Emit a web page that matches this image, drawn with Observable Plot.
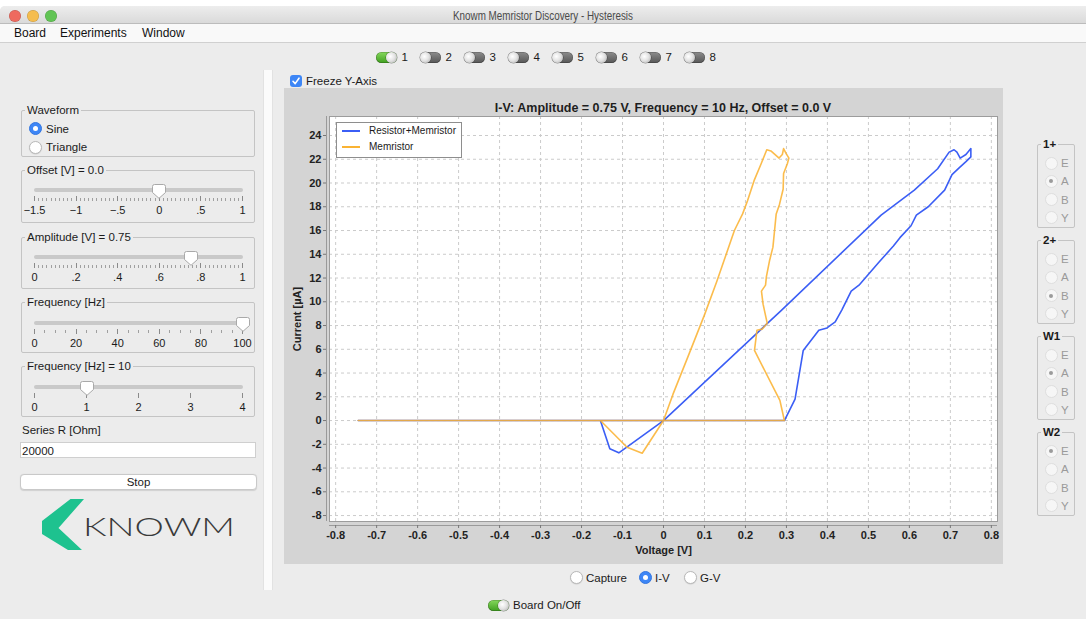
<!DOCTYPE html>
<html>
<head>
<meta charset="utf-8">
<title>Knowm Memristor Discovery - Hysteresis</title>
<script src="https://cdn.jsdelivr.net/npm/d3@7"></script>
<script src="https://cdn.jsdelivr.net/npm/@observablehq/plot@0.6"></script>
<style>
  html, body { margin: 0; padding: 0; }
  body { width: 1086px; height: 619px; overflow: hidden; position: relative; background: #ffffff;
         font-family: "Liberation Sans", Arial, sans-serif; font-size: 11.5px; color: #1b1b1b; }
  .a { position: absolute; }
  .t { position: absolute; white-space: nowrap; line-height: 14px; }
  .box { position: absolute; border: 1px solid #c4c4c4; border-radius: 2px; box-sizing: border-box; }
  .boxTitle { position: absolute; background: #ececec; padding: 0 2px; line-height: 14px; white-space: nowrap; }
</style>
</head>
<body>
<div class="a" style="left:0;top:6px;width:1100px;height:620px;background:#ececec;border-radius:5px 0 0 0;"></div>
<div class="a" style="left:0;top:6px;width:1100px;height:17px;background:linear-gradient(#ededed,#dadada);border-bottom:1px solid #bcbcbc;border-radius:5px 0 0 0;"></div>
<div class="a" style="left:0;top:24px;width:1100px;height:18px;background:#f9f9f9;border-bottom:1px solid #d0d0d0;"></div>
<div id="chart" class="a" style="left:284px;top:88px;width:719px;height:476px;background:#d4d4d4;"></div>
<script>
// ---- chart data ----
const xTicks = [-0.8, -0.7, -0.6, -0.5, -0.4, -0.3, -0.2, -0.1, 0, 0.1, 0.2, 0.3, 0.4, 0.5, 0.6, 0.7, 0.8];
const yTicks = [-8, -6, -4, -2, 0, 2, 4, 6, 8, 10, 12, 14, 16, 18, 20, 22, 24];
const xDomain = [-0.815, 0.815];
const yDomain = [-8.5, 25.6];

const seriesNames = ["Resistor+Memristor", "Memristor"];
const seriesColors = ["#3b5ef5", "#fab333"];

// Resistor+Memristor: total applied voltage [V] vs current [µA]
const rmVoltage = [0.000, 0.287, 0.531, 0.612, 0.669, 0.697, 0.709, 0.716, 0.724, 0.738, 0.750, 0.750, 0.738,
  0.722, 0.704, 0.686, 0.646, 0.617, 0.604, 0.577, 0.561, 0.525, 0.477, 0.458, 0.435, 0.419, 0.399, 0.379,
  0.341, 0.321, 0.295, -0.745, -0.154, -0.131, -0.109, 0.000];
const rmCurrent = [0.0, 9.26, 17.3, 19.4, 21.2, 22.6, 22.8, 22.6, 22.1, 22.4, 22.9, 22.2, 21.8,
  21.3, 20.7, 19.4, 18.0, 17.3, 16.4, 15.4, 14.7, 13.3, 11.4, 10.9, 9.3, 8.3, 7.8, 7.6,
  5.9, 1.8, 0.0, 0.0, 0.0, -2.38, -2.72, 0.0];

// Memristor: voltage across the device [V] vs current [µA]
const memVoltage = [0.000, 0.023, 0.060, 0.100, 0.130, 0.153, 0.173, 0.193, 0.205, 0.221, 0.238, 0.252, 0.262,
  0.282, 0.290, 0.293, 0.299, 0.306, 0.302, 0.293, 0.292, 0.283, 0.275, 0.271, 0.267, 0.259, 0.251, 0.249,
  0.239, 0.243, 0.253, 0.241, 0.228, 0.222, 0.284, 0.295, -0.745, -0.154, -0.089, -0.052, 0.000];
const memCurrent = [0.0, 2.2, 5.4, 8.9, 11.7, 14.0, 16.0, 17.4, 18.5, 20.2, 21.6, 22.8, 22.7,
  22.1, 22.4, 22.9, 22.5, 22.1, 21.6, 20.8, 19.5, 18.2, 17.4, 16.0, 14.6, 13.5, 12.1, 11.4,
  10.9, 9.8, 8.2, 7.7, 7.6, 5.9, 1.7, 0.0, 0.0, 0.0, -2.25, -2.75, 0.0];

const chartTitle = "I-V: Amplitude = 0.75 V, Frequency = 10 Hz, Offset = 0.0 V";
const xLabel = "Voltage [V]";
const yLabel = "Current [µA]";

// ---- control panel content ----
const menuItems = ["Board", "Experiments", "Window"];
const channelToggles = ["1", "2", "3", "4", "5", "6", "7", "8"];
const offsetLabels = [["−1.5", -1.5], ["−1", -1], ["−.5", -0.5], ["0", 0], [".5", 0.5], ["1", 1]];
const amplitudeLabels = [["0", 0], [".2", 0.2], [".4", 0.4], [".6", 0.6], [".8", 0.8], ["1", 1]];
const freqRangeLabels = [["0", 0], ["20", 20], ["40", 40], ["60", 60], ["80", 80], ["100", 100]];
const freqLabels = [["0", 0], ["1", 1], ["2", 2], ["3", 3], ["4", 4]];
const channelLetters = ["E", "A", "B", "Y"];
const pinGroups = [["1+", 1], ["2+", 2], ["W1", 1], ["W2", 0]];
const viewModes = ["Capture", "I-V", "G-V"];

// ---- helpers ----
const body = document.body;
function el(tag, cls, style, text) {
  const e = document.createElement(tag);
  if (cls) e.className = cls;
  Object.assign(e.style, style);
  if (text != null) e.textContent = text;
  body.appendChild(e);
  return e;
}
function txt(s, x, y, o = {}) {
  const e = el("div", "t", {left: x + "px", top: (y - 7) + "px",
    fontSize: (o.size || 11.5) + "px", fontWeight: o.bold ? "bold" : "normal",
    color: o.color || "#1b1b1b"}, s);
  let tf = "";
  if (o.align === "center") tf += "translateX(-50%) ";
  if (o.align === "right") tf += "translateX(-100%) ";
  if (o.squeeze) tf += "scaleX(" + o.squeeze + ")";
  if (tf) e.style.transform = tf;
  return e;
}
function radio(cx, cy, state) {
  const d = 13;
  const st = {left: (cx - d / 2) + "px", top: (cy - d / 2) + "px", width: d + "px", height: d + "px",
    borderRadius: "50%", boxSizing: "border-box"};
  if (state === "on") Object.assign(st, {background: "#3d86f6", border: "1px solid #3477e0"});
  else if (state === "off") Object.assign(st, {background: "#ffffff", border: "1px solid #b9b9b9", boxShadow: "0 0.5px 1px rgba(0,0,0,0.15)"});
  else Object.assign(st, {background: "#f6f6f6", border: "1px solid #dedede"});
  el("div", "a", st);
  if (state === "on" || state === "disOn") {
    const r = state === "on" ? 5 : 4;
    el("div", "a", {left: (cx - r / 2) + "px", top: (cy - r / 2) + "px", width: r + "px", height: r + "px",
      borderRadius: "50%", background: state === "on" ? "#ffffff" : "#9b9b9b"});
  }
}
function toggle(x, cy, on) {
  const w = 21, h = 11;
  el("div", "a", {left: x + "px", top: (cy - h / 2) + "px", width: w + "px", height: h + "px", borderRadius: "6px",
    background: on ? "linear-gradient(#86d95c,#3f9f1f)" : "linear-gradient(#8d8d8d,#565656)",
    boxShadow: "inset 0 0 0 0.5px rgba(0,0,0,0.35)"});
  const kx = on ? x + w - 11 : x;
  el("div", "a", {left: kx + "px", top: (cy - 5.5) + "px", width: "11px", height: "11px", borderRadius: "50%",
    background: "radial-gradient(circle at 40% 40%, #ffffff 0%, #e4e4e4 45%, #a9a9a9 100%)",
    boxShadow: "0 0 0 0.5px rgba(0,0,0,0.4)"});
}
function group(title, left, top, right, bottom, bold) {
  el("div", "box", {left: left + "px", top: top + "px", width: (right - left) + "px", height: (bottom - top) + "px"});
  el("div", "boxTitle", {left: (left + 4) + "px", top: (top - 7) + "px", fontWeight: bold ? "bold" : "normal"}, title);
}
function slider(y, min, max, minor, majorLabels, value) {
  const sx = d3.scaleLinear().domain([min, max]).range([34.5, 242.5]);
  el("div", "a", {left: "34px", top: (y - 2) + "px", width: "209px", height: "4px", background: "#c9c9c9", borderRadius: "2px"});
  if (minor) {
    for (const v of d3.range(min, max + minor / 2, minor)) {
      el("div", "a", {left: (sx(v) - 0.5) + "px", top: (y + 7.5) + "px", width: "1px", height: "3px", background: "#a0a0a0"});
    }
  }
  for (const [s, v] of majorLabels) {
    el("div", "a", {left: (sx(v) - 0.5) + "px", top: (y + 6) + "px", width: "1px", height: "5px", background: "#8a8a8a"});
    txt(s, sx(v), y + 20, {align: "center", size: 11});
  }
  const th = document.createElementNS("http://www.w3.org/2000/svg", "svg");
  th.setAttribute("width", 14); th.setAttribute("height", 15);
  th.style.position = "absolute";
  th.style.left = (sx(value) - 7) + "px";
  th.style.top = (y - 6) + "px";
  th.innerHTML = '<path d="M0.5,2.5 Q0.5,0.5 2.5,0.5 L11.5,0.5 Q13.5,0.5 13.5,2.5 L13.5,8.5 L7,14.3 L0.5,8.5 Z" fill="#ffffff" stroke="#a9a9a9" stroke-width="1"/>';
  body.appendChild(th);
}

// ---- window chrome ----
[["#ee6a5f", 15], ["#f5bd4f", 33], ["#61c454", 51]].forEach(([c, x]) =>
  el("div", "a", {left: (x - 6) + "px", top: "10px", width: "12px", height: "12px", borderRadius: "50%", background: c,
    boxShadow: "inset 0 0 0 0.5px rgba(0,0,0,0.2)"}));
txt("Knowm Memristor Discovery - Hysteresis", 543, 16, {align: "center", size: 12, color: "#4a4a4a", squeeze: 0.82});
[14, 60, 142].forEach((x, k) => txt(menuItems[k], x, 33, {size: 12, color: "#111"}));

// ---- channel toggles ----
channelToggles.forEach((s, k) => {
  const x = 375.5 + k * 44;
  toggle(x, 57, k === 0);
  txt(s, x + 26, 57, {size: 11.5});
});

// ---- left control panel ----
group("Waveform", 21, 110, 255, 157);
radio(35, 128.5, "on");  txt("Sine", 46, 128.5);
radio(35, 147, "off");   txt("Triangle", 46, 147);

group("Offset [V] = 0.0", 21, 170, 255, 223);
slider(190, -1.5, 1, 0.05, offsetLabels, 0);

group("Amplitude [V] = 0.75", 21, 237, 255, 289);
slider(257, 0, 1, 0.02, amplitudeLabels, 0.75);

group("Frequency [Hz]", 21, 302, 255, 353);
slider(322.5, 0, 100, 5, freqRangeLabels, 100);

group("Frequency [Hz] = 10", 21, 366, 255, 417);
slider(386.5, 0, 4, 0, freqLabels, 1);

txt("Series R [Ohm]", 22, 430);
el("div", "a", {left: "20px", top: "442px", width: "236px", height: "16px", background: "#ffffff",
  border: "1px solid #cfcfcf", boxSizing: "border-box"});
txt("20000", 22, 450.5);
el("div", "a", {left: "20px", top: "474px", width: "237px", height: "16px", background: "#ffffff",
  border: "1px solid #c9c9c9", borderRadius: "4px", boxSizing: "border-box", boxShadow: "0 0.5px 1px rgba(0,0,0,0.12)"});
txt("Stop", 138.5, 482, {align: "center"});

// logo
const logo = document.createElementNS("http://www.w3.org/2000/svg", "svg");
logo.setAttribute("width", 220); logo.setAttribute("height", 60);
logo.style.position = "absolute"; logo.style.left = "30px"; logo.style.top = "495px";
logo.innerHTML =
  '<polygon points="40.5,4 54,4 28.5,33 52,55 38,55 12,39 12,26" fill="#1ec28f"/>' +
  '<text x="53" y="41" font-family="Lato, Liberation Sans, sans-serif" font-weight="300" font-size="25" fill="#3a3a3a" textLength="152" lengthAdjust="spacingAndGlyphs">KNOWM</text>';
body.appendChild(logo);

// split-pane divider
el("div", "a", {left: "263px", top: "70px", width: "10px", height: "520px", background: "#fbfbfb",
  borderLeft: "1px solid #e2e2e2", borderRight: "1px solid #e2e2e2", boxSizing: "border-box"});

// freeze checkbox
el("div", "a", {left: "290px", top: "75px", width: "12px", height: "12px", borderRadius: "3px", background: "#3d86f6"});
const ck = document.createElementNS("http://www.w3.org/2000/svg", "svg");
ck.setAttribute("width", 12); ck.setAttribute("height", 12);
ck.style.position = "absolute"; ck.style.left = "290px"; ck.style.top = "75px";
ck.innerHTML = '<path d="M3,6.3 L5.2,8.6 L9,3.2" fill="none" stroke="#fff" stroke-width="1.6" stroke-linecap="round" stroke-linejoin="round"/>';
body.appendChild(ck);
txt("Freeze Y-Axis", 306, 81);

// ---- chart ----
const chart = document.getElementById("chart");
const tdiv = document.createElement("div");
Object.assign(tdiv.style, {position: "absolute", left: "45px", top: "13px", width: "668px", textAlign: "center",
  whiteSpace: "nowrap", fontWeight: "bold", fontSize: "12.5px", lineHeight: "14px", color: "#1e1e1e"});
tdiv.textContent = chartTitle;
chart.appendChild(tdiv);

const rmData = rmVoltage.map((v, k) => ({v, i: rmCurrent[k]}));
const memData = memVoltage.map((v, k) => ({v, i: memCurrent[k]}));
const fmtX = d => d === 0 ? "0" : d.toFixed(1);
const fmtY = d => String(d);

const svg = Plot.plot({
  width: 719,
  height: 476,
  marginTop: 28,
  marginRight: 6,
  marginBottom: 43,
  marginLeft: 45,
  style: {background: "transparent", fontFamily: '"Liberation Sans", Arial, sans-serif', fontSize: "11px", color: "#222"},
  x: {domain: xDomain},
  y: {domain: yDomain},
  marks: [
    Plot.frame({fill: "#ffffff", stroke: null}),
    Plot.gridX(xTicks, {stroke: "#cbcbcb", strokeOpacity: 1, strokeDasharray: "3,3"}),
    Plot.gridY(yTicks, {stroke: "#cbcbcb", strokeOpacity: 1, strokeDasharray: "3,3"}),
    Plot.line(rmData, {x: "v", y: "i", stroke: seriesColors[0], strokeWidth: 1.6}),
    Plot.line(memData, {x: "v", y: "i", stroke: seriesColors[1], strokeWidth: 1.6, strokeOpacity: 0.88}),
    Plot.frame({stroke: "#9c9c9c"}),
    Plot.ruleY([yDomain[0]], {dy: 4, stroke: "#9a9a9a"}),
    Plot.ruleX([xDomain[0]], {dx: -3, stroke: "#9a9a9a"}),
    Plot.axisX(xTicks, {tickSize: 3, dy: 4, tickPadding: 3, tickFormat: fmtX, fontWeight: "bold", stroke: "#777",
      label: xLabel, labelAnchor: "center", labelArrow: "none", labelOffset: 32}),
    Plot.axisY(yTicks, {tickSize: 3, dx: -3, tickPadding: 2, tickFormat: fmtY, fontWeight: "bold", stroke: "#777",
      label: yLabel, labelAnchor: "center", labelArrow: "none", labelOffset: 36})
  ]
});
svg.style.position = "absolute";
svg.style.left = "0";
svg.style.top = "0";
chart.appendChild(svg);

// legend
el("div", "a", {left: "336px", top: "122px", width: "126px", height: "36px", background: "#ffffff",
  border: "1px solid #8e8e8e", boxSizing: "border-box"});
seriesNames.forEach((s, k) => {
  const y = 131 + k * 16;
  el("div", "a", {left: "342px", top: (y - 1) + "px", width: "18px", height: "2px", background: seriesColors[k]});
  txt(s, 369, y, {size: 10});
});

// ---- right pin panel ----
pinGroups.forEach(([name, sel], g) => {
  const top = 144 + g * 96;
  group(name, 1037, top, 1075, top + 84, true);
  channelLetters.forEach((c, k) => {
    const cy = top + 19 + k * 18.3;
    radio(1051, cy, k === sel ? "disOn" : "dis");
    txt(c, 1061, cy, {color: "#9a9a9a"});
  });
});

// ---- bottom controls ----
[[576, 586], [645, 655], [690, 700]].forEach(([rx, tx], k) => {
  radio(rx, 577.5, k === 1 ? "on" : "off");
  txt(viewModes[k], tx, 577.5);
});
toggle(488, 605, true);
txt("Board On/Off", 513, 605);
</script>
</body>
</html>
